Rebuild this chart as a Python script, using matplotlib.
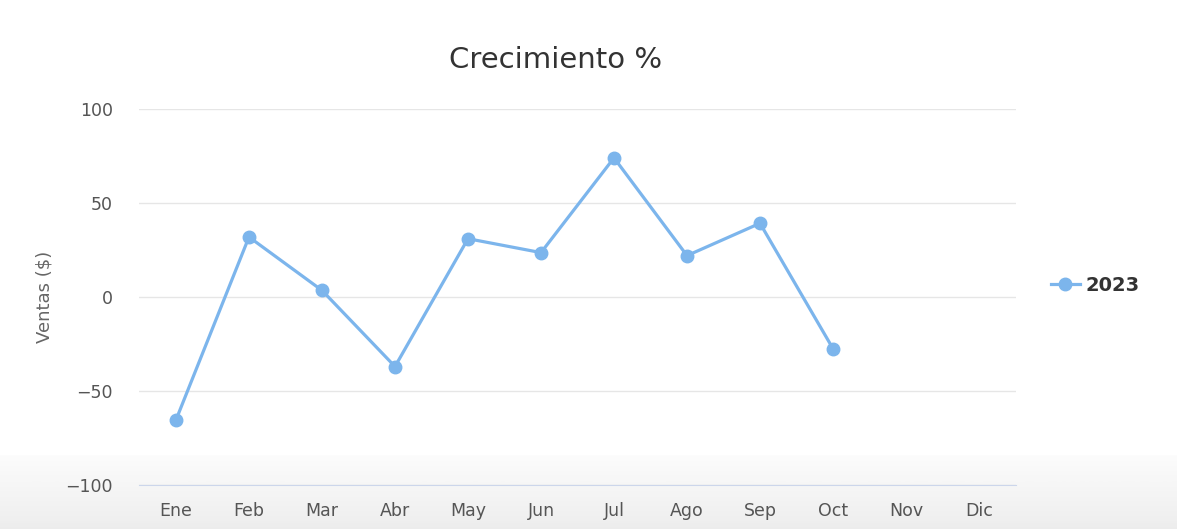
import matplotlib.pyplot as plt
import numpy as np

plt.rcParams['font.family'] = ['DejaVu Sans']

meses = ['Ene', 'Feb', 'Mar', 'Abr', 'May', 'Jun', 'Jul', 'Ago', 'Sep', 'Oct', 'Nov', 'Dic']
crecimiento_2023 = [-65.4, 31.9, 3.5, -37.0, 31.0, 23.6, 74.0, 22.0, 39.2, -27.5]
y_ticks = [-100, -50, 0, 50, 100]

fig = plt.figure(figsize=(11.77, 5.29), dpi=100)

# soft gray gradient along the bottom edge (screenshot shading)
bg = fig.add_axes([0, 0, 1, 0.14], zorder=-10)
grad = np.linspace(0, 1, 100).reshape(-1, 1)
bg.imshow(grad, aspect='auto', cmap='Greys', vmin=-0.2, vmax=8, origin='upper',
          extent=[0, 1, 0, 1])
bg.axis('off')

ax = fig.add_axes([0.1185, 0.0832, 0.7443, 0.7108])
ax.patch.set_alpha(0)

x = np.arange(len(crecimiento_2023))
ax.plot(x, crecimiento_2023, color='#7cb5ec', linewidth=2.3, marker='o',
        markersize=9, label='2023', zorder=3)

ax.set_xlim(-0.5, len(meses) - 0.5)
ax.set_ylim(-100, 100)
ax.set_xticks(np.arange(len(meses)))
ax.set_xticklabels(meses)
ax.set_yticks(y_ticks)
ax.set_yticklabels([str(t).replace('-', '\u2212') for t in y_ticks])

ax.grid(axis='y', color='#e6e6e6', linewidth=1)
ax.set_axisbelow(True)
for s in ['top', 'right', 'left']:
    ax.spines[s].set_visible(False)
ax.spines['bottom'].set_color('#ccd6eb')
ax.spines['bottom'].set_zorder(1)
ax.tick_params(axis='both', length=0, colors='#555555', labelsize=12.5)
ax.tick_params(axis='x', pad=12)
ax.tick_params(axis='y', pad=19)

ax.set_ylabel('Ventas ($)', color='#666666', fontsize=13, labelpad=9)
fig.text(0.472, 0.887, 'Crecimiento %', ha='center', va='center',
         fontsize=21, color='#333333')

leg = ax.legend(loc='center left', bbox_to_anchor=(1.02, 0.53), frameon=False,
                handlelength=1.5, handletextpad=0.3, markerscale=1.0, fontsize=14)
for t in leg.get_texts():
    t.set_fontweight('bold')
    t.set_color('#333333')

fig.savefig('out.png', dpi=100)
